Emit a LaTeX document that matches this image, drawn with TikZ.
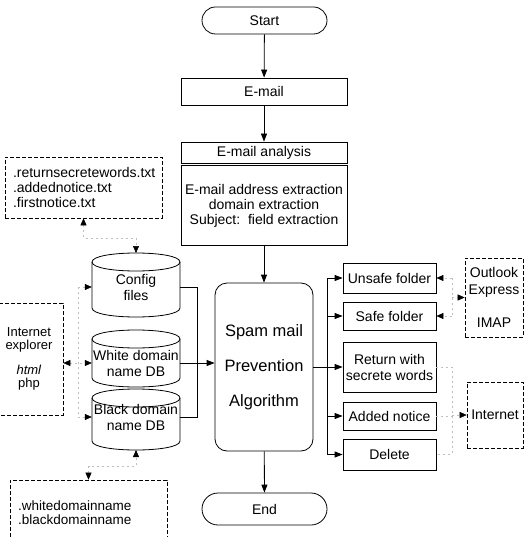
\documentclass[tikz,border=0pt]{standalone}
\usepackage{fontspec}
\setmainfont{Liberation Sans}
\usetikzlibrary{arrows.meta}
\newcommand\dbcylinder[3]{% x centre, top y, bottom y
  \filldraw[fill=white, line width=0.8pt]
    (#1-44,#2+9) -- (#1-44,#3-9)
    .. controls (#1-44,#3+3) and (#1+44,#3+3) .. (#1+44,#3-9)
    -- (#1+44,#2+9)
    .. controls (#1+44,#2-3) and (#1-44,#2-3) .. (#1-44,#2+9) -- cycle;
  \draw[line width=0.8pt] (#1-44,#2+9) .. controls (#1-44,#2+21) and (#1+44,#2+21) .. (#1+44,#2+9);
}
\begin{document}
\begin{tikzpicture}[x=1pt,y=-1pt,
  every node/.style={font=\fontsize{14}{16}\selectfont, inner sep=0pt, align=center},
  box/.style={draw, line width=0.8pt},
  term/.style={box, minimum width=125pt},
  dbox/.style={draw, line width=0.6pt, dash pattern=on 4pt off 2pt},
  arr/.style={line width=0.8pt, -{Triangle[length=8pt,width=6pt]}},
  faint/.style={gray!50, line width=0.5pt, dash pattern=on 2pt off 3pt},
  ftip/.style={-{Triangle[length=7pt,width=6pt,color=black]}},
  ftips/.style={{Triangle[length=7pt,width=6pt,color=black]}-{Triangle[length=7pt,width=6pt,color=black]}},
  side/.style={box, minimum width=93pt}
]
\useasboundingbox (0,0) rectangle (525,537);

% main column
\node[term, minimum height=27pt, rounded corners=13.5pt] (start) at (264.5,20.5) {Start};
\node[box, minimum width=166pt, minimum height=27pt] (email) at (264,91.5) {E-mail};
\node[box, minimum width=166pt, minimum height=21pt] (analysis) at (264,152.5) {E-mail analysis};
\node[box, minimum width=166pt, minimum height=80pt, font=\fontsize{14}{15}\selectfont] (extract) at (264,205.5)
  {E-mail address extraction\\domain extraction\\Subject:\ \ field extraction};
\node[box, minimum width=98pt, minimum height=168pt, rounded corners=12pt,
      font=\fontsize{16.5}{35}\selectfont] (spam) at (264,367) {Spam mail\\Prevention\\Algorithm};
\node[term, minimum height=32pt, rounded corners=16pt] (end) at (264.5,509) {End};

\draw[arr] (start) -- (email);
\draw[arr] (email) -- (analysis);
\draw[arr] (extract) -- (spam);
\draw[arr] (spam) -- (end);

% result folders
\node[side, minimum height=30pt] (unsafe) at (389.5,278) {Unsafe folder};
\node[side, minimum height=28pt] (safe) at (389.5,316) {Safe folder};
\node[side, minimum height=50pt] (ret) at (389.5,367) {Return with\\secrete words};
\node[side, minimum height=28pt] (added) at (389.5,416) {Added notice};
\node[side, minimum height=31pt] (delete) at (389.5,454.5) {Delete};

\coordinate (bus) at (327,0);
\draw[line width=0.8pt] (bus |- unsafe.west) -- (bus |- delete.west);
\draw[arr] (spam.east |- ret.west) -- (ret.west);
\foreach \n in {unsafe,safe,added,delete}
  \draw[arr] (bus |- \n.west) -- (\n.west);

% clients on the right
\node[dbox, minimum width=58pt, minimum height=79pt, font=\fontsize{14}{17}\selectfont] (outlook) at (494,297.5)
  {Outlook\\Express\\[16pt]IMAP};
\node[dbox, minimum width=56pt, minimum height=66pt] (internet) at (495,415) {Internet};

\coordinate (rb) at (452,0);
\draw[faint] (rb |- unsafe.east) -- (rb |- safe.east);
\draw[faint, ftip] (rb |- unsafe.east) -- (unsafe.east);
\draw[faint, ftip] (rb |- safe.east) -- (safe.east);
\draw[faint, ftip] (rb |- outlook.west) -- (outlook.west);
\draw[faint] (ret.east) -- (rb |- ret.east) -- (rb |- delete.east) -- (delete.east);
\draw[faint] (added.east) -- (rb |- added.east);
\draw[faint, ftip] (rb |- internet.west) -- (internet.west);

% databases
\dbcylinder{136}{253}{317}
\dbcylinder{136}{330}{387}
\dbcylinder{136}{389}{450}
\coordinate (configtop) at (136,253);
\coordinate (blackbot) at (136,450);
\node[minimum width=88pt, minimum height=40pt] (config) at (136,287) {Config\\files};
\node[minimum width=88pt, minimum height=36pt] (white) at (136,363) {White domain\\name DB};
\node[minimum width=88pt, minimum height=40pt] (black) at (136,417) {Black domain\\name DB};

\coordinate (lbus) at (197,0);
\draw[line width=0.8pt] (config.east) -- (lbus |- config.east) -- (lbus |- black.east) -- (black.east);
\draw[arr] (white.east) -- (spam.west |- white.east);

% files and browser on the left
\node[dbox, minimum width=157pt, minimum height=61pt, align=left, text width=141pt,
      font=\fontsize{14}{15}\selectfont] (files) at (83.5,187.5)
  {.returnsecretewords.txt\\.addednotice.txt\\.firstnotice.txt};
\node[dbox, minimum width=68pt, minimum height=112pt,
      font=\fontsize{13}{13}\selectfont] (iebox) at (29,359)
  {Internet\\explorer\\[12pt]\textit{html}\\php};
\node[dbox, minimum width=157pt, minimum height=65pt, align=left, text width=141pt,
      font=\fontsize{13.5}{14}\selectfont] (lower) at (88.5,512.5)
  {.whitedomainname\\.blackdomainname};

\draw[faint, ftips] (files.south) |- (110,238) -| (configtop);
\draw[faint, ftips] (lower.north) |- (110,466) -| (blackbot);
\draw[faint, ftips] (iebox.east |- white.west) -- (white.west);
\coordinate (lb) at (78,0);
\draw[faint] (lb |- config.west) -- (lb |- black.west);
\draw[faint, ftip] (lb |- config.west) -- (config.west);
\draw[faint, ftip] (lb |- black.west) -- (black.west);
\end{tikzpicture}
\end{document}
